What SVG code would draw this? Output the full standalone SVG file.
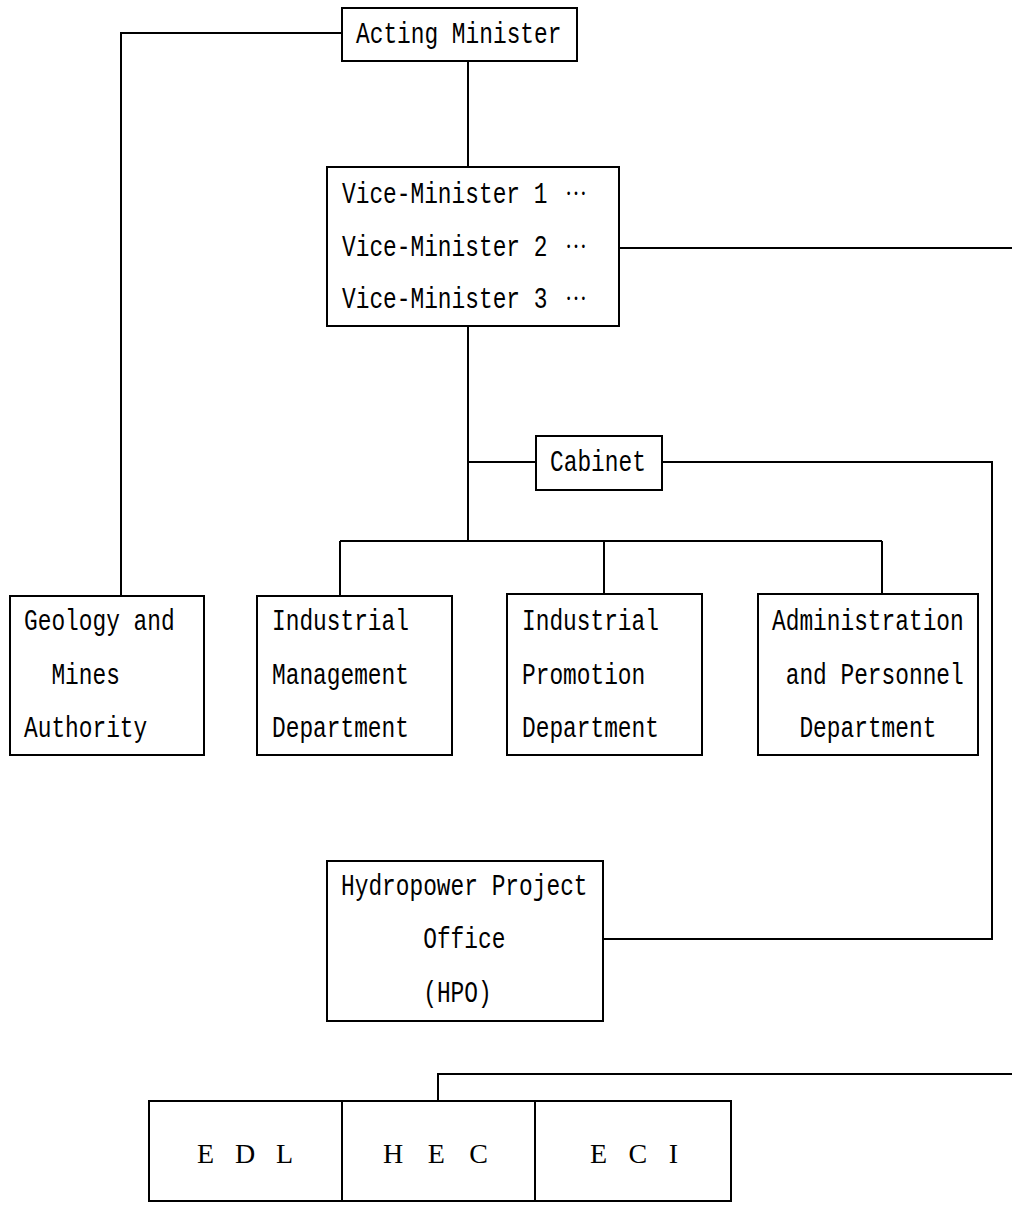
<svg xmlns="http://www.w3.org/2000/svg" width="1012" height="1207" viewBox="0 0 1012 1207">
<style>
.box{fill:#fff;stroke:#000;stroke-width:2}
.ln{fill:none;stroke:#000;stroke-width:2}
.t{font-family:"Liberation Mono","Courier New",monospace;font-size:22.83px;fill:#000}
.el{font-family:"Liberation Serif","Times New Roman",serif;font-size:22px}
.b{font-family:"Liberation Serif","Times New Roman",serif;font-size:28px;fill:#000}
</style>
<rect width="1012" height="1207" fill="#fff"/>
<g id="connectors">
<polyline class="ln" points="342,33 121,33 121,596"/>
<line class="ln" x1="468" y1="61" x2="468" y2="167"/>
<line class="ln" x1="619" y1="248" x2="1012" y2="248"/>
<line class="ln" x1="468" y1="326" x2="468" y2="541"/>
<line class="ln" x1="468" y1="462" x2="536" y2="462"/>
<polyline class="ln" points="662,462 992,462 992,939 603,939"/>
<line class="ln" x1="340" y1="541" x2="882" y2="541"/>
<line class="ln" x1="340" y1="541" x2="340" y2="596"/>
<line class="ln" x1="604" y1="541" x2="604" y2="594"/>
<line class="ln" x1="882" y1="541" x2="882" y2="594"/>
<polyline class="ln" points="1012,1074 438,1074 438,1101"/>
</g>
<g id="acting-minister">
<rect class="box" x="342" y="8" width="235" height="53"/>
<text class="t" x="356" y="43" transform="matrix(1 0 0 1.3 0 -12.9)">Acting Minister</text>
</g>
<g id="vice-ministers">
<rect class="box" x="327" y="167" width="292" height="159"/>
<text class="t" x="342" y="203" transform="matrix(1 0 0 1.3 0 -60.9)">Vice-Minister 1 <tspan class="el" x="565" dy="-6">…</tspan></text>
<text class="t" x="342" y="256" transform="matrix(1 0 0 1.3 0 -76.8)">Vice-Minister 2 <tspan class="el" x="565" dy="-6">…</tspan></text>
<text class="t" x="342" y="308" transform="matrix(1 0 0 1.3 0 -92.4)">Vice-Minister 3 <tspan class="el" x="565" dy="-6">…</tspan></text>
</g>
<g id="cabinet">
<rect class="box" x="536" y="436" width="126" height="54"/>
<text class="t" x="550" y="471" transform="matrix(1 0 0 1.3 0 -141.3)">Cabinet</text>
</g>
<g id="geology">
<rect class="box" x="10" y="596" width="194" height="159"/>
<text class="t" x="24" y="630" transform="matrix(1 0 0 1.3 0 -189)">Geology and</text>
<text class="t" x="51.4" y="684" transform="matrix(1 0 0 1.3 0 -205.2)">Mines</text>
<text class="t" x="24" y="737" transform="matrix(1 0 0 1.3 0 -221.1)">Authority</text>
</g>
<g id="industrial-management">
<rect class="box" x="257" y="596" width="195" height="159"/>
<text class="t" x="272" y="630" transform="matrix(1 0 0 1.3 0 -189)">Industrial</text>
<text class="t" x="272" y="684" transform="matrix(1 0 0 1.3 0 -205.2)">Management</text>
<text class="t" x="272" y="737" transform="matrix(1 0 0 1.3 0 -221.1)">Department</text>
</g>
<g id="industrial-promotion">
<rect class="box" x="507" y="594" width="195" height="161"/>
<text class="t" x="522" y="630" transform="matrix(1 0 0 1.3 0 -189)">Industrial</text>
<text class="t" x="522" y="684" transform="matrix(1 0 0 1.3 0 -205.2)">Promotion</text>
<text class="t" x="522" y="737" transform="matrix(1 0 0 1.3 0 -221.1)">Department</text>
</g>
<g id="administration">
<rect class="box" x="758" y="594" width="220" height="161"/>
<text class="t" x="772" y="630" transform="matrix(1 0 0 1.3 0 -189)">Administration</text>
<text class="t" x="785.7" y="684" transform="matrix(1 0 0 1.3 0 -205.2)">and Personnel</text>
<text class="t" x="799.4" y="737" transform="matrix(1 0 0 1.3 0 -221.1)">Department</text>
</g>
<g id="hpo">
<rect class="box" x="327" y="861" width="276" height="160"/>
<text class="t" x="341" y="895" transform="matrix(1 0 0 1.3 0 -268.5)">Hydropower Project</text>
<text class="t" x="423.2" y="948" transform="matrix(1 0 0 1.3 0 -284.4)">Office</text>
<text class="t" x="423.2" y="1002" transform="matrix(1 0 0 1.3 0 -300.6)">(HPO)</text>
</g>
<g id="edl">
<rect class="box" x="149" y="1101" width="193" height="100"/>
<text class="b" x="197" y="1163" textLength="96">E D L</text>
</g>
<g id="hec">
<rect class="box" x="342" y="1101" width="193" height="100"/>
<text class="b" x="383" y="1163" textLength="105">H E C</text>
</g>
<g id="eci">
<rect class="box" x="535" y="1101" width="196" height="100"/>
<text class="b" x="590" y="1163" textLength="88">E C I</text>
</g>
</svg>
